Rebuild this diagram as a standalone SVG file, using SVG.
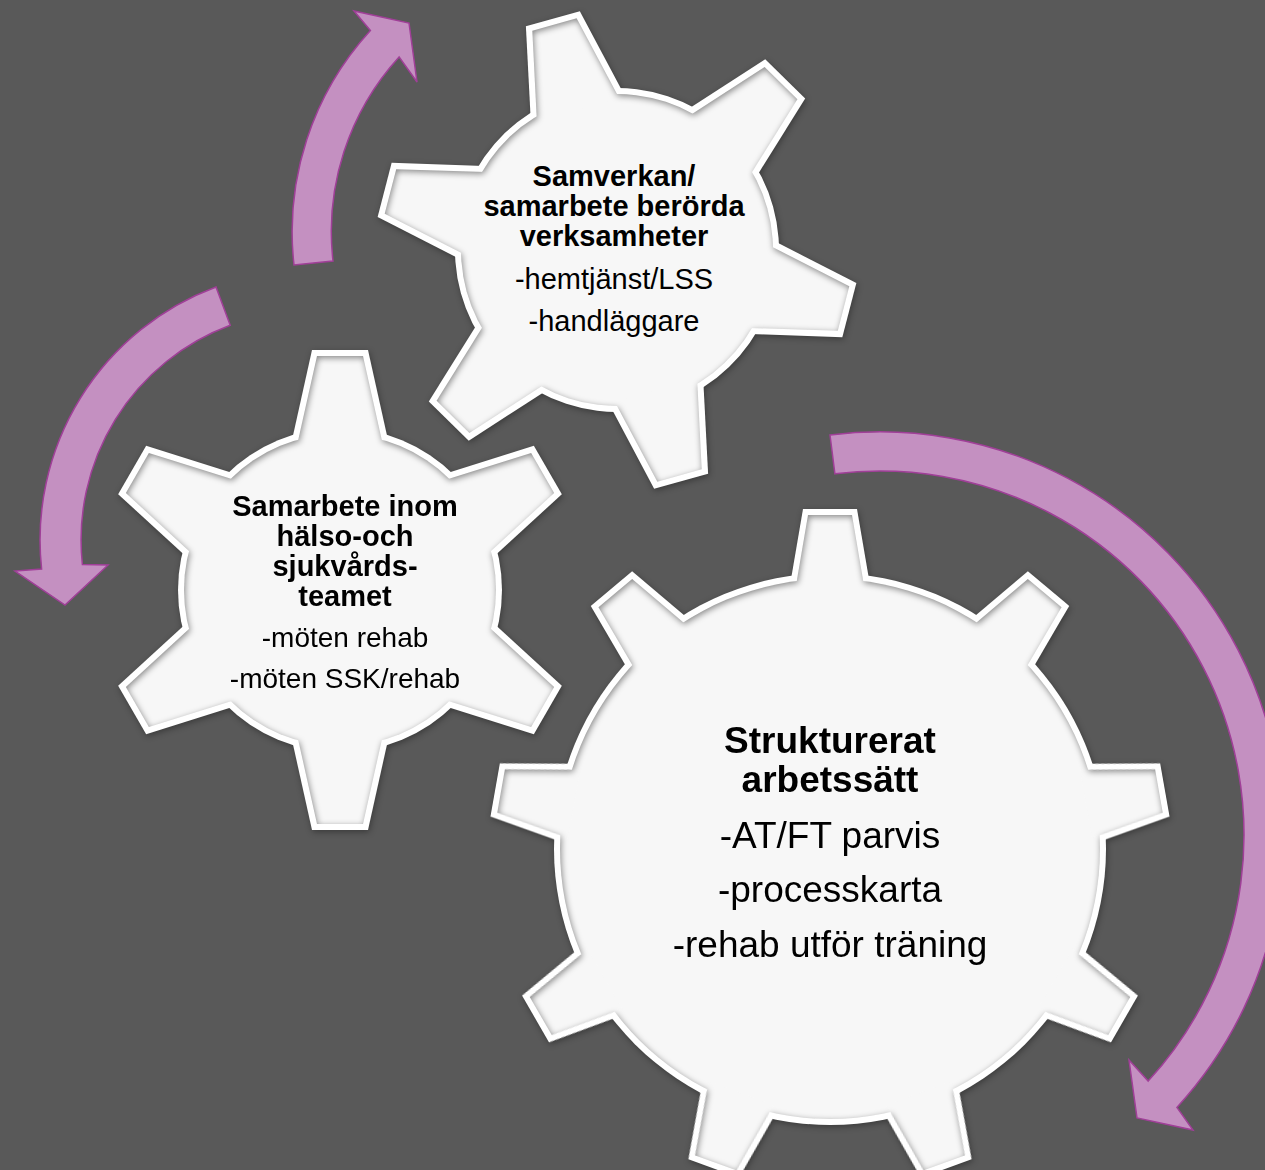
<svg xmlns="http://www.w3.org/2000/svg" width="1265" height="1170" viewBox="0 0 1265 1170">
<defs>
<style>
.rim{fill:#ffffff}
.face{fill:#f7f7f7}
.arrow{fill:#c490c1;stroke:#a03f98;stroke-width:1.5;stroke-linejoin:miter}
text{font-family:"Liberation Sans",Arial,Helvetica,sans-serif;fill:#000000;text-anchor:middle}
.b{font-weight:bold}
.s{font-size:29px}
.m{font-size:28px}
.l{font-size:37px}
</style>
<filter id="drop" x="-10%" y="-10%" width="120%" height="120%" color-interpolation-filters="sRGB">
<feGaussianBlur in="SourceAlpha" stdDeviation="3"/>
<feOffset dx="1" dy="2" result="b"/>
<feFlood flood-color="#000" flood-opacity="0.35"/>
<feComposite in2="b" operator="in"/>
<feMerge><feMergeNode/><feMergeNode in="SourceGraphic"/></feMerge>
</filter>
<filter id="inset" x="-5%" y="-5%" width="110%" height="110%" color-interpolation-filters="sRGB">
<feFlood flood-color="#000" flood-opacity="0.45" result="f"/>
<feComposite in="f" in2="SourceAlpha" operator="out" result="inv"/>
<feOffset in="inv" dx="1" dy="2" result="off"/>
<feGaussianBlur in="off" stdDeviation="3" result="blur"/>
<feComposite in="blur" in2="SourceAlpha" operator="in" result="sh"/>
<feMerge><feMergeNode in="SourceGraphic"/><feMergeNode in="sh"/></feMerge>
</filter>
<polygon id="t6o" points="-28,-240 28,-240 48,-150 -48,-150"/>
<polygon id="t6i" points="-23,-234 23,-234 42.7,-146 -42.7,-146"/>
<polygon id="t9o" points="-27,-340 27,-340 40,-264 -40,-264"/>
<polygon id="t9i" points="-22,-334 22,-334 34.6,-260 -34.6,-260"/>
<g id="g6o">
<circle r="162"/>
<use href="#t6o"/><use href="#t6o" transform="rotate(60)"/><use href="#t6o" transform="rotate(120)"/>
<use href="#t6o" transform="rotate(180)"/><use href="#t6o" transform="rotate(240)"/><use href="#t6o" transform="rotate(300)"/>
</g>
<g id="g6i">
<circle r="156"/>
<use href="#t6i"/><use href="#t6i" transform="rotate(60)"/><use href="#t6i" transform="rotate(120)"/>
<use href="#t6i" transform="rotate(180)"/><use href="#t6i" transform="rotate(240)"/><use href="#t6i" transform="rotate(300)"/>
</g>
<g id="g9o">
<circle r="276"/>
<use href="#t9o"/><use href="#t9o" transform="rotate(40)"/><use href="#t9o" transform="rotate(80)"/>
<use href="#t9o" transform="rotate(120)"/><use href="#t9o" transform="rotate(160)"/><use href="#t9o" transform="rotate(200)"/>
<use href="#t9o" transform="rotate(240)"/><use href="#t9o" transform="rotate(280)"/><use href="#t9o" transform="rotate(320)"/>
</g>
<g id="g9i">
<circle r="270"/>
<use href="#t9i"/><use href="#t9i" transform="rotate(40)"/><use href="#t9i" transform="rotate(80)"/>
<use href="#t9i" transform="rotate(120)"/><use href="#t9i" transform="rotate(160)"/><use href="#t9i" transform="rotate(200)"/>
<use href="#t9i" transform="rotate(240)"/><use href="#t9i" transform="rotate(280)"/><use href="#t9i" transform="rotate(320)"/>
</g>
</defs>
<rect width="1265" height="1170" fill="#595959"/>
<g id="connectors">
<path class="arrow" d="M 294,265 A 298 298 0 0 1 370.4,30.5 L 354,11 L 409,23 L 417,82 L 399.1,56.9 A 259 259 0 0 0 333,261 Z"/>
<path class="arrow" d="M 216,287 A 270 270 0 0 0 41.6,569 L 15,571 L 65,605 L 108,565 L 82.4,564.6 A 229 229 0 0 1 230.2,325.3 Z"/>
<path class="arrow" d="M 830,435 A 403 403 0 0 1 1176.9,1107.4 L 1193,1130 L 1137,1118 L 1129,1060 L 1148.2,1081.1 A 364 364 0 0 0 834.9,473.8 Z"/>
</g>
<g id="node-samverkan" transform="translate(617,250)">
<g filter="url(#drop)"><use href="#g6o" class="rim" transform="rotate(-15.5)"/></g>
<g filter="url(#inset)"><use href="#g6i" class="face" transform="rotate(-15.5)"/></g>
<text class="b s" x="-3" y="-64">Samverkan/</text>
<text class="b s" x="-3" y="-34">samarbete berörda</text>
<text class="b s" x="-3" y="-4">verksamheter</text>
<text class="s" x="-3" y="39">-hemtjänst/LSS</text>
<text class="s" x="-3" y="81">-handläggare</text>
</g>
<g id="node-samarbete" transform="translate(340,590)">
<g filter="url(#drop)"><use href="#g6o" class="rim"/></g>
<g filter="url(#inset)"><use href="#g6i" class="face"/></g>
<text class="b s" x="5" y="-74">Samarbete inom</text>
<text class="b s" x="5" y="-44">hälso-och</text>
<text class="b s" x="5" y="-14">sjukvårds-</text>
<text class="b s" x="5" y="16">teamet</text>
<text class="m" x="5" y="57">-möten rehab</text>
<text class="m" x="5" y="98">-möten SSK/rehab</text>
</g>
<g id="node-strukturerat" transform="translate(830,849)">
<g filter="url(#drop)"><use href="#g9o" class="rim"/></g>
<g filter="url(#inset)"><use href="#g9i" class="face"/></g>
<text class="b l" x="0" y="-96">Strukturerat</text>
<text class="b l" x="0" y="-57">arbetssätt</text>
<text class="l" x="0" y="-1">-AT/FT parvis</text>
<text class="l" x="0" y="53">-processkarta</text>
<text class="l" x="0" y="108">-rehab utför träning</text>
</g>
</svg>
